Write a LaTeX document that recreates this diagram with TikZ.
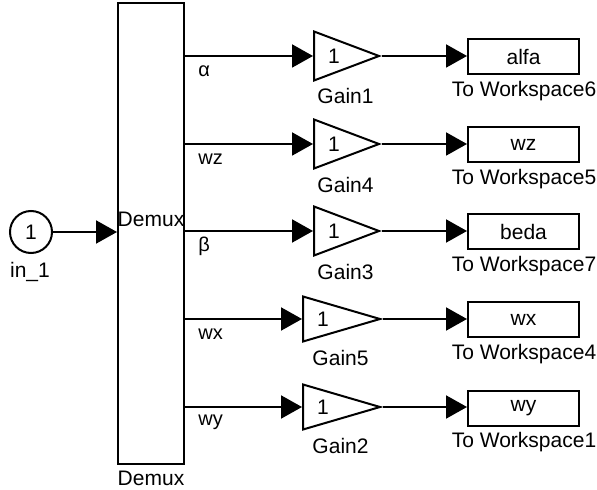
\documentclass[tikz,border=0pt]{standalone}
\usepackage{fontspec}
\setmainfont{Liberation Sans}
\usetikzlibrary{arrows.meta,positioning,shapes.geometric}

\begin{document}
\begin{tikzpicture}[
			x=0.5pt,y=-0.5pt,
			blk/.style={
				draw,
				line width=1pt,
				fill=white,
				inner sep=0pt
			},
			% for the triangle, height runs along the axis and width across it
			gainblk/.style={
				blk,
				isosceles triangle,
				isosceles triangle stretches,
				shape border rotate=0,
				anchor=west
			},
			wsblk/.style={
				blk,
				minimum width=55.5pt,
				minimum height=17.5pt,
				font=\fontsize{10.5pt}{12pt}\selectfont
			},
			lbl/.style={font=\fontsize{10.5pt}{12pt}\selectfont,inner sep=0pt},
			sig/.style={font=\fontsize{10pt}{12pt}\selectfont,inner sep=0pt,anchor=west},
			wire/.style={line width=1pt,-{Triangle[length=10.5pt,width=11.5pt]}}
			]
			\useasboundingbox (0,0) rectangle (597,490);

			% input port and demux
			\node[blk,circle,minimum size=21pt,font=\fontsize{10.5pt}{12pt}\selectfont] (in1) at (31,232) {1};
			\node[lbl] (in1name) at (30,272) {in\_1};
			\node[blk,minimum width=33pt,minimum height=230.5pt] (dmx) at (151,233.5) {};
			\node[lbl] (dmxin) at (151,219) {Demux};
			\node[lbl] (dmxname) at (151,478) {Demux};
			\draw[wire] (in1) -- (dmx.west |- in1);

			% one row per demux output: gain, then workspace sink
			\foreach \row/\yy/\gx/\gw/\gh/\gname/\var/\ws/\sname in {
				1/56/313/65/49/Gain1/alfa/6/α,
				2/144/313/65/49/Gain4/wz/5/wz,
				3/231/313/65/49/Gain3/beda/7/β,
				4/319/302/77/45/Gain5/wx/4/wx,
				5/407/302/77/45/Gain2/wy/1/wy}
			{
				\node[gainblk,minimum height=\gw*0.5pt,minimum width=\gh*0.5pt] (g\row) at (\gx,\yy) {};
				\node[lbl] (gk\row) at (\gx+21,\yy) {1};
				\node[lbl] (gn\row) at (\gx+\gw/2,\yy+\gh/2+16) {\gname};
				\node[wsblk] (ws\row) at (523.5,\yy+1) {\var};
				\node[lbl] (wn\row) at (524,\yy+35) {To Workspace\ws};
				\node[sig] (s\row) at (198,\yy+15) {\sname};
				\draw[wire] (dmx.east |- g\row.west) -- (g\row.west);
				\draw[wire] (g\row.east) -- (ws\row.west |- g\row.east);
			}
		\end{tikzpicture}
\end{document}
